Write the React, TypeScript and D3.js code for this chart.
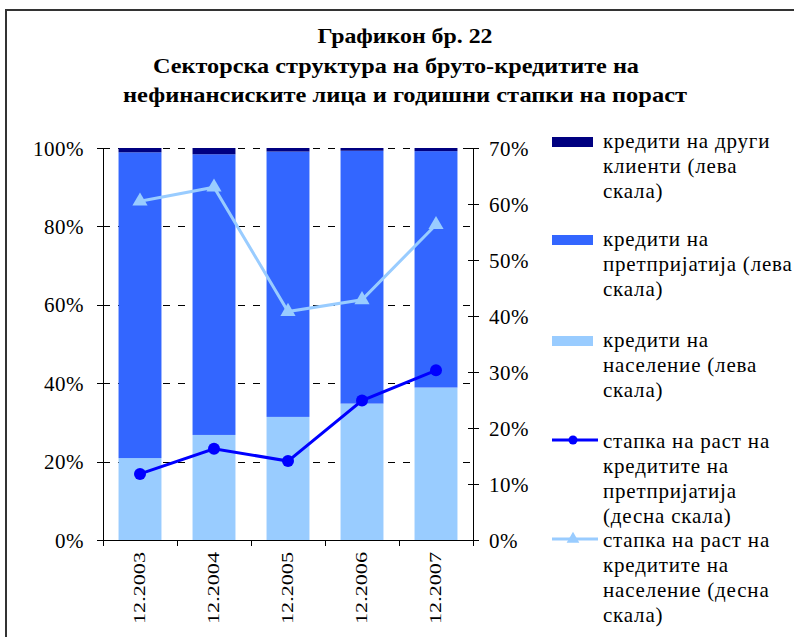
import { useRef, useEffect } from "react";
import * as d3 from "d3";

const categories = ["12.2003", "12.2004", "12.2005", "12.2006", "12.2007"];
const households = [20.9, 26.8, 31.4, 34.8, 38.9];
const enterprises = [78.0, 71.6, 67.7, 64.5, 60.3];
const otherClients = [1.1, 1.6, 0.9, 0.7, 0.8];
const growthEnterprises = [11.8, 16.3, 14.1, 24.9, 30.3];
const growthHouseholds = [60.5, 63.0, 40.8, 42.9, 56.3];

const leftTicks = [0, 20, 40, 60, 80, 100];
const rightTicks = [0, 10, 20, 30, 40, 50, 60, 70];

const titleLines = [
  "Графикон бр. 22",
  "Секторска структура на бруто-кредитите на",
  "нефинансиските лица и годишни стапки на пораст",
];

const legendItems = [
  { kind: "rect", color: "#000080", lines: ["кредити на други", "клиенти (лева", "скала)"] },
  { kind: "rect", color: "#3366FF", lines: ["кредити на", "претпријатија (лева", "скала)"] },
  { kind: "rect", color: "#99CCFF", lines: ["кредити на", "население (лева", "скала)"] },
  { kind: "circle", color: "#0000FF", lines: ["стапка на раст на", "кредитите на", "претпријатија", "(десна скала)"] },
  { kind: "triangle", color: "#99CCFF", lines: ["стапка на раст на", "кредитите на", "население (десна", "скала)"] },
];

const FONT = "'Liberation Serif', 'Times New Roman', serif";

export default function App() {
  const ref = useRef<SVGSVGElement | null>(null);
  const width = 794;
  const height = 637;

  useEffect(() => {
    document.body.style.margin = "0";
    if (!ref.current) return;
    const svg = d3.select(ref.current);
    svg.selectAll("*").remove();

    const left = 103;
    const right = 473;
    const top = 148;
    const bottom = 540;

    // frame
    svg.append("rect")
      .attr("x", 6).attr("y", 10)
      .attr("width", 800).attr("height", 640)
      .attr("fill", "white")
      .attr("stroke", "#333").attr("stroke-width", 2);

    // title
    const titleY = [43, 73, 102];
    const titleX = [405, 396, 405];
    const titleW = [175, 486, 564];
    svg.selectAll("text.title")
      .data(titleLines)
      .join("text")
      .attr("class", "title")
      .attr("x", (_, i) => titleX[i])
      .attr("y", (_, i) => titleY[i])
      .attr("text-anchor", "middle")
      .attr("textLength", (_, i) => titleW[i])
      .attr("lengthAdjust", "spacingAndGlyphs")
      .style("font-family", FONT)
      .style("font-weight", "bold")
      .style("font-size", "21px")
      .text((d) => d);

    const x = d3.scaleBand<string>()
      .domain(categories)
      .range([left, right])
      .paddingInner(0.42)
      .paddingOuter(0.21);
    const yL = d3.scaleLinear().domain([0, 100]).range([bottom, top]);
    const yR = d3.scaleLinear().domain([0, 70]).range([bottom, top]);

    // grid
    svg.append("g")
      .selectAll("line")
      .data(leftTicks.filter((t) => t > 0))
      .join("line")
      .attr("x1", left).attr("x2", right)
      .attr("y1", (d) => Math.round(yL(d)) + 0.5)
      .attr("y2", (d) => Math.round(yL(d)) + 0.5)
      .attr("stroke", "#000")
      .attr("stroke-dasharray", "7,8");

    // stacked bars
    const rows = categories.map((c, i) => ({
      cat: c,
      households: households[i],
      enterprises: enterprises[i],
      other: otherClients[i],
    }));
    const keys = ["households", "enterprises", "other"];
    const colors: Record<string, string> = {
      households: "#99CCFF",
      enterprises: "#3366FF",
      other: "#000080",
    };
    const stack = d3.stack<any>().keys(keys)(rows);
    svg.append("g")
      .selectAll("g")
      .data(stack)
      .join("g")
      .attr("fill", (d) => colors[d.key])
      .selectAll("rect")
      .data((d) => d)
      .join("rect")
      .attr("x", (d) => x(d.data.cat)!)
      .attr("width", x.bandwidth())
      .attr("y", (d) => yL(d[1]))
      .attr("height", (d) => yL(d[0]) - yL(d[1]));

    // axes
    const ax = svg.append("g").attr("stroke", "#000").attr("stroke-width", 1);
    ax.append("line")
      .attr("x1", left + 0.5).attr("x2", left + 0.5)
      .attr("y1", top).attr("y2", bottom + 6);
    ax.selectAll("line.lt")
      .data(leftTicks)
      .join("line")
      .attr("class", "lt")
      .attr("x1", left - 6).attr("x2", left)
      .attr("y1", (d) => Math.round(yL(d)) + 0.5)
      .attr("y2", (d) => Math.round(yL(d)) + 0.5);
    ax.append("line")
      .attr("x1", right + 0.5).attr("x2", right + 0.5)
      .attr("y1", top).attr("y2", bottom + 6);
    ax.selectAll("line.rt")
      .data(rightTicks)
      .join("line")
      .attr("class", "rt")
      .attr("x1", (d) => (d === 0 ? right : right - 5))
      .attr("x2", right + 6)
      .attr("y1", (d) => Math.round(yR(d)) + 0.5)
      .attr("y2", (d) => Math.round(yR(d)) + 0.5);
    ax.append("line")
      .attr("x1", left).attr("x2", right + 1)
      .attr("y1", bottom + 0.5).attr("y2", bottom + 0.5);
    ax.selectAll("line.xt")
      .data(d3.range(categories.length + 1))
      .join("line")
      .attr("class", "xt")
      .attr("x1", (i) => Math.round(left + i * x.step()) + 0.5)
      .attr("x2", (i) => Math.round(left + i * x.step()) + 0.5)
      .attr("y1", bottom).attr("y2", bottom + 6);

    const labelStyle = (sel: any) =>
      sel.style("font-family", FONT)
        .style("font-size", "21px")
        .style("letter-spacing", "0.5px")
        .attr("fill", "#000");

    svg.append("g")
      .selectAll("text")
      .data(leftTicks)
      .join("text")
      .attr("x", 84)
      .attr("y", (d) => yL(d) + 7.5)
      .attr("text-anchor", "end")
      .call(labelStyle)
      .text((d) => `${d}%`);

    svg.append("g")
      .selectAll("text")
      .data(rightTicks)
      .join("text")
      .attr("x", 489)
      .attr("y", (d) => yR(d) + 7.5)
      .call(labelStyle)
      .text((d) => `${d}%`);

    svg.append("g")
      .selectAll("text")
      .data(categories)
      .join("text")
      .attr("transform", (d) => `translate(${x(d)! + x.bandwidth() / 2 + 5},${bottom + 12}) rotate(-90)`)
      .attr("text-anchor", "end")
      .attr("textLength", 72)
      .attr("lengthAdjust", "spacingAndGlyphs")
      .style("font-family", FONT)
      .style("font-size", "17px")
      .text((d) => d);

    // growth lines
    const cx = (i: number) => x(categories[i])! + x.bandwidth() / 2;
    const lineG = d3.line<number>().x((_, i) => cx(i)).y((d) => yR(d));
    svg.append("path")
      .attr("d", lineG(growthHouseholds)!)
      .attr("fill", "none")
      .attr("stroke", "#99CCFF")
      .attr("stroke-width", 3);
    const tri = d3.symbol().type(d3.symbolTriangle).size(100);
    svg.append("g")
      .selectAll("path")
      .data(growthHouseholds)
      .join("path")
      .attr("d", tri()!)
      .attr("transform", (d, i) => `translate(${cx(i)},${yR(d)})`)
      .attr("fill", "#99CCFF");

    svg.append("path")
      .attr("d", lineG(growthEnterprises)!)
      .attr("fill", "none")
      .attr("stroke", "#0000FF")
      .attr("stroke-width", 3);
    svg.append("g")
      .selectAll("circle")
      .data(growthEnterprises)
      .join("circle")
      .attr("cx", (_, i) => cx(i))
      .attr("cy", (d) => yR(d))
      .attr("r", 6)
      .attr("fill", "#0000FF");

    // legend
    const legTop = [137, 235, 336, 440, 539];
    const lg = svg.append("g");
    legendItems.forEach((item, k) => {
      const g = lg.append("g");
      const y0 = legTop[k];
      let base: number;
      if (item.kind === "rect") {
        g.append("rect")
          .attr("x", 552).attr("y", y0)
          .attr("width", 41).attr("height", 10)
          .attr("fill", item.color);
        base = y0 + 11;
      } else {
        g.append("line")
          .attr("x1", 552).attr("x2", 598)
          .attr("y1", y0).attr("y2", y0)
          .attr("stroke", item.color).attr("stroke-width", 3);
        if (item.kind === "circle") {
          g.append("circle").attr("cx", 573).attr("cy", y0).attr("r", 4.5).attr("fill", item.color);
        } else {
          g.append("path")
            .attr("d", d3.symbol().type(d3.symbolTriangle).size(70)()!)
            .attr("transform", `translate(573,${y0})`)
            .attr("fill", item.color);
        }
        base = y0 + 8;
      }
      g.selectAll("text")
        .data(item.lines)
        .join("text")
        .attr("x", 603)
        .attr("y", (_, j) => base + j * 25)
        .style("font-family", FONT)
        .style("font-size", "21px")
        .style("letter-spacing", "0.8px")
        .text((d) => d);
    });
  }, []);

  return <svg ref={ref} width={width} height={height} style={{ display: "block" }} />;
}
